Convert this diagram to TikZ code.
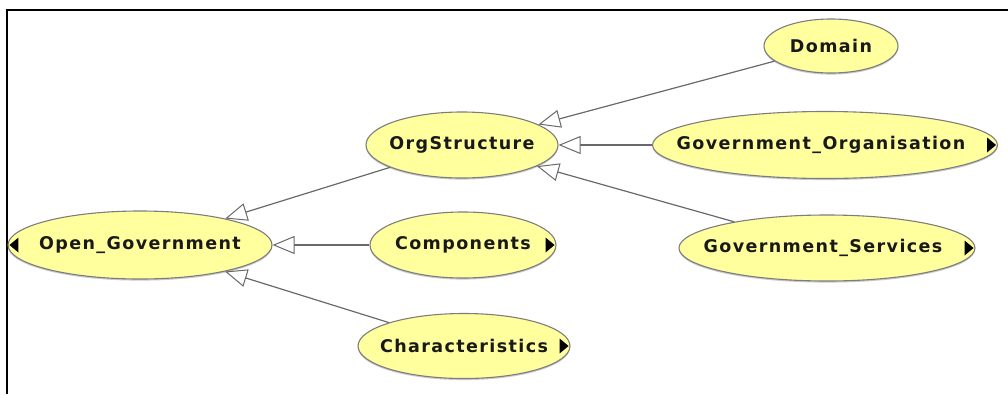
\documentclass[tikz,border=0pt]{standalone}
\usepackage{fontspec}
\newfontfamily\classfont[LetterSpace=8]{DejaVu Sans Bold}
\usetikzlibrary{shapes.geometric,arrows.meta,shadows,calc}
\definecolor{classfill}{RGB}{255,255,158}
\definecolor{classedge}{RGB}{125,125,125}
\definecolor{linkgray}{RGB}{105,105,105}
\tikzset{
  cls/.style={ellipse, draw=classedge, line width=1.1pt, fill=classfill,
    inner sep=0pt,
    drop shadow={shadow xshift=0pt, shadow yshift=-1.6pt, opacity=0.35, fill=black!60}},
  clstext/.style={text=black!90, font=\classfont\fontsize{17.5}{20}\selectfont},
  isa/.style={draw=linkgray, line width=1.2pt,
    -{Triangle[length=22pt, width=18pt, fill=white, line width=1pt]}},
  marker/.style={fill=black}
}
\begin{document}
\begin{tikzpicture}[x=1pt, y=-1pt]
  \useasboundingbox (0,0) rectangle (1008,394);
  % frame
  \draw[line width=2pt] (7,394) -- (7,10) -- (1010,10);

  % classes (ellipse size fixed, name set as a centred label)
  \node[cls, minimum width=134, minimum height=54,
    label={[clstext]center:Domain}] (dom) at (831,46) {};
  \node[cls, minimum width=192, minimum height=66,
    label={[clstext]center:OrgStructure}] (org) at (462,145) {};
  \node[cls, minimum width=345, minimum height=67,
    label={[clstext, xshift=-4pt]center:Government\_Organisation}] (gorg) at (825,145) {};
  \node[cls, minimum width=296, minimum height=66,
    label={[clstext, xshift=-4pt]center:Government\_Services}] (gsrv) at (827,248) {};
  \node[cls, minimum width=264, minimum height=68,
    label={[clstext]center:Open\_Government}] (og) at (140,245) {};
  \node[cls, minimum width=186, minimum height=66,
    label={[clstext]center:Components}] (comp) at (463,245) {};
  \node[cls, minimum width=212, minimum height=65,
    label={[clstext]center:Characteristics}] (chr) at (464,346) {};

  % expand markers
  \foreach \n in {gorg,gsrv,comp,chr}
    \fill[marker] ($(\n.east)+(-2,0)$) -- ++(-9,-7.5) -- ++(0,15) -- cycle;
  \fill[marker] ($(og.west)+(2,0)$) -- ++(9,-7.5) -- ++(0,15) -- cycle;

  % subclass links
  \draw[isa] (dom)  -- (org);
  \draw[isa] (gorg) -- (org);
  \draw[isa] (gsrv) -- (org);
  \draw[isa] (org)  -- (og);
  \draw[isa] (comp) -- (og);
  \draw[isa] (chr)  -- (og);
\end{tikzpicture}
\end{document}
